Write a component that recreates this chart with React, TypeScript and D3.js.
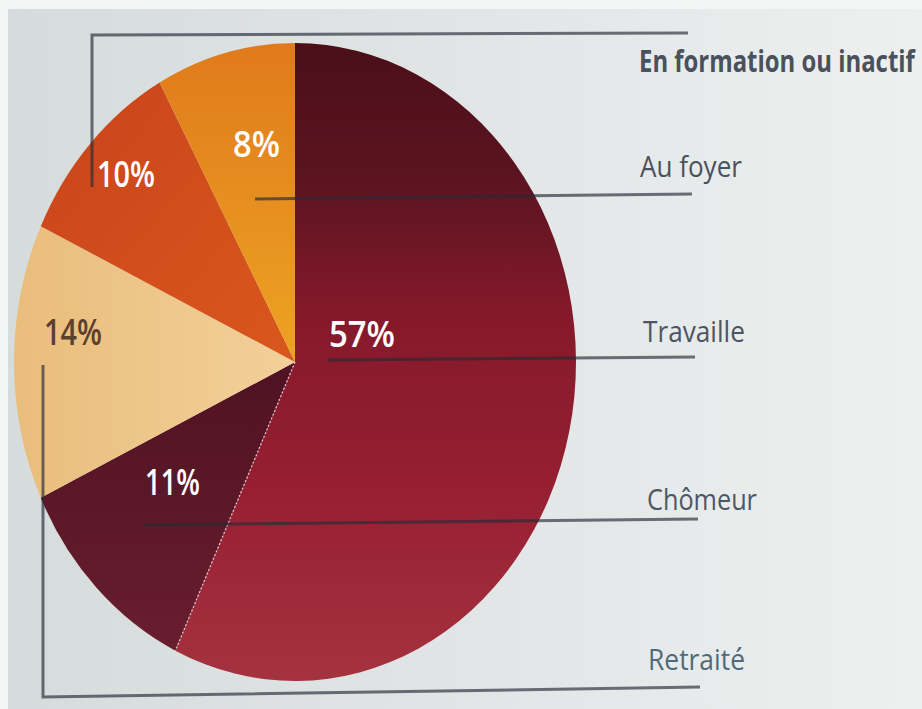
import React, { useLayoutEffect, useRef, useState } from "react";
import * as d3 from "d3";

// ---- data (clockwise from 12 o'clock) ----
const categories = ["Travaille", "Chômeur", "Retraité", "En formation ou inactif", "Au foyer"];
const values = [57, 11, 14, 10, 8];
const pctLabels = ["57%", "11%", "14%", "10%", "8%"];
const legendOrder = ["En formation ou inactif", "Au foyer", "Travaille", "Chômeur", "Retraité"];

// ---- layout / style ----
const W = 922;
const H = 709;
const CX = 295;
const CY = 362;
const RX = 281;
const RY = 319;
const R = 300;
const FONT = "'Open Sans', 'DejaVu Sans', sans-serif";

const sliceFill: Record<string, string> = {
  Travaille: "url(#g57)",
  "Chômeur": "url(#g11)",
  "Retraité": "url(#g14)",
  "En formation ou inactif": "url(#g10)",
  "Au foyer": "url(#g8)",
};

const labelPos: Record<string, { x: number; y: number; w: number; fill: string }> = {
  Travaille: { x: 329, y: 347, w: 66, fill: "#ffffff" },
  "Chômeur": { x: 145, y: 495, w: 55, fill: "#ffffff" },
  "Retraité": { x: 44, y: 345, w: 58, fill: "#5b4030" },
  "En formation ou inactif": { x: 97, y: 187, w: 58, fill: "#ffffff" },
  "Au foyer": { x: 233, y: 157, w: 47, fill: "#ffffff" },
};

const legendPos: Record<string, { x: number; y: number; w: number; weight: number; fill: string }> = {
  "En formation ou inactif": { x: 639, y: 72, w: 276, weight: 700, fill: "#4a505c" },
  "Au foyer": { x: 640, y: 177, w: 102, weight: 400, fill: "#4a505c" },
  Travaille: { x: 643, y: 342, w: 102, weight: 400, fill: "#4c5563" },
  "Chômeur": { x: 647, y: 510, w: 110, weight: 400, fill: "#4d5766" },
  "Retraité": { x: 648, y: 670, w: 97, weight: 400, fill: "#4f6a78" },
};

const leaders: Record<string, string> = {
  "En formation ou inactif": "M92,187 V35 L688,33",
  "Au foyer": "M255,199 L692,194",
  Travaille: "M328,360 L695,357",
  "Chômeur": "M143,525 L698,519",
  "Retraité": "M43,365 V697 L700,687",
};

function FitText(props: {
  x: number;
  y: number;
  w: number;
  size: number;
  weight: number;
  fill: string;
  children: string;
}) {
  const ref = useRef<SVGTextElement>(null);
  const [sx, setSx] = useState(1);
  useLayoutEffect(() => {
    if (ref.current) {
      const natural = ref.current.getComputedTextLength();
      if (natural > 0) setSx(props.w / natural);
    }
  }, [props.w, props.children]);
  return (
    <text
      ref={ref}
      transform={`translate(${props.x},${props.y}) scale(${sx},1)`}
      fill={props.fill}
      fontFamily={FONT}
      fontWeight={props.weight}
      fontSize={props.size}
    >
      {props.children}
    </text>
  );
}

export default function App() {
  const pie = d3
    .pie<number>()
    .sort(null)
    .startAngle(0)
    .endAngle(2 * Math.PI);
  const arcs = pie(values);
  const arc = d3.arc<d3.PieArcDatum<number>>().innerRadius(0).outerRadius(R);

  const sepAngle = arcs[0].endAngle;
  const sepX = R * Math.sin(sepAngle);
  const sepY = -R * Math.cos(sepAngle);

  return (
    <svg
      width={W}
      height={H}
      viewBox={`0 0 ${W} ${H}`}
      style={{ position: "absolute", left: 0, top: 0, display: "block" }}
    >
      <defs>
        <linearGradient id="bg" x1="0" y1="0" x2="1" y2="0">
          <stop offset="0" stopColor="#d6dbdb" />
          <stop offset="0.45" stopColor="#e0e4e4" />
          <stop offset="1" stopColor="#eef0f0" />
        </linearGradient>
        <linearGradient id="g57" gradientUnits="userSpaceOnUse" x1="0" y1={-R} x2="0" y2={R}>
          <stop offset="0" stopColor="#4a0f19" />
          <stop offset="0.22" stopColor="#5c1420" />
          <stop offset="0.42" stopColor="#84192b" />
          <stop offset="0.7" stopColor="#961f31" />
          <stop offset="1" stopColor="#a5323f" />
        </linearGradient>
        <linearGradient id="g11" gradientUnits="userSpaceOnUse" x1="0" y1="0" x2="0" y2={R}>
          <stop offset="0" stopColor="#4f1222" />
          <stop offset="1" stopColor="#6b1f2f" />
        </linearGradient>
        <linearGradient id="g14" gradientUnits="userSpaceOnUse" x1={-R} y1="0" x2="0" y2="0">
          <stop offset="0" stopColor="#e9bd7c" />
          <stop offset="1" stopColor="#f3d09a" />
        </linearGradient>
        <linearGradient id="g10" gradientUnits="userSpaceOnUse" x1={-R} y1={-R} x2="0" y2="0">
          <stop offset="0" stopColor="#c8401c" />
          <stop offset="1" stopColor="#d9581c" />
        </linearGradient>
        <linearGradient id="g8" gradientUnits="userSpaceOnUse" x1="0" y1={-R} x2="0" y2="0">
          <stop offset="0" stopColor="#e07a1c" />
          <stop offset="1" stopColor="#eda323" />
        </linearGradient>
      </defs>

      <rect x={0} y={0} width={W} height={H} fill="#f4f5f5" />
      <rect x={8} y={9} width={W - 8} height={H - 9} fill="url(#bg)" />

      <g transform={`translate(${CX},${CY}) scale(${RX / R},${RY / R})`}>
        {arcs.map((a, i) => (
          <path key={categories[i]} d={arc(a) || ""} fill={sliceFill[categories[i]]} />
        ))}
        <line
          x1={0}
          y1={0}
          x2={sepX}
          y2={sepY}
          stroke="#f4d6dc"
          strokeWidth={1.3}
          strokeDasharray="2 2"
          vectorEffect="non-scaling-stroke"
          opacity={0.85}
        />
      </g>

      {legendOrder.map((c) => (
        <path
          key={"l" + c}
          d={leaders[c]}
          fill="none"
          stroke="#262b36"
          strokeOpacity={0.66}
          strokeWidth={3}
        />
      ))}

      {categories.map((c, i) => {
        const p = labelPos[c];
        return (
          <FitText key={"p" + c} x={p.x} y={p.y} w={p.w} size={36} weight={600} fill={p.fill}>
            {pctLabels[i]}
          </FitText>
        );
      })}

      {legendOrder.map((c) => {
        const p = legendPos[c];
        return (
          <FitText key={"t" + c} x={p.x} y={p.y} w={p.w} size={30} weight={p.weight} fill={p.fill}>
            {c}
          </FitText>
        );
      })}
    </svg>
  );
}
